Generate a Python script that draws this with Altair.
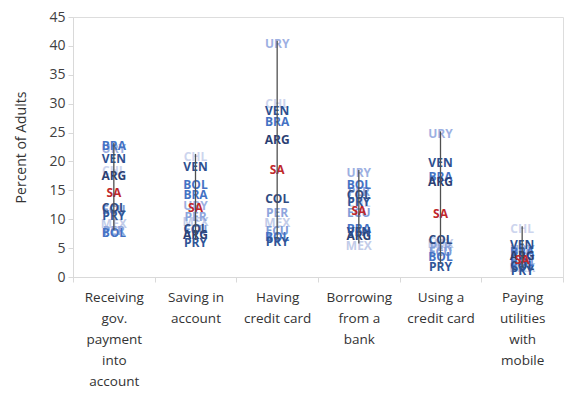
import altair as alt
import pandas as pd

categories = [
    "Receiving|gov.|payment|into|account",
    "Saving in|account",
    "Having|credit card",
    "Borrowing|from a|bank",
    "Using a|credit card",
    "Paying|utilities|with|mobile",
]
countries = ["ARG", "BOL", "BRA", "CHL", "COL", "ECU", "MEX", "PER", "PRY", "URY", "VEN", "SA"]
receiving = [18.0, 8.1, 23.2, 18.8, 12.4, 12.1, 9.7, 8.5, 11.1, 22.6, 20.9, 15.0]
saving = [7.8, 16.5, 14.7, 21.3, 8.8, 8.6, 10.0, 10.9, 6.4, 12.8, 19.6, 12.4]
having_cc = [24.2, 7.4, 27.4, 30.5, 14.0, 8.5, 9.8, 11.6, 6.5, 40.9, 29.2, 19.0]
borrowing = [7.6, 16.4, 8.9, 13.3, 14.7, 11.6, 5.8, 15.2, 13.5, 18.5, 8.3, 12.0]
using_cc = [17.0, 4.0, 17.9, 6.6, 6.9, 4.9, 6.2, 5.7, 2.3, 25.2, 20.2, 11.4]
paying_mob = [4.1, 3.1, 4.8, 8.8, 2.4, 2.8, 2.1, 4.5, 1.6, 5.2, 6.1, 3.5]
y_ticks = [0, 5, 10, 15, 20, 25, 30, 35, 40, 45]

colors = {
    "ARG": "#2B3F73", "BOL": "#4472C4", "BRA": "#4472C4", "CHL": "#CDD5EE",
    "COL": "#2F4B82", "ECU": "#7F9CD8", "MEX": "#C2CCE9", "PER": "#8EA5DD",
    "PRY": "#2F5597", "URY": "#9DB0E2", "VEN": "#2E5090", "SA": "#C0282B",
}
draw_order = ["CHL", "MEX", "URY", "PER", "ECU", "BOL", "BRA", "ARG", "COL", "PRY", "VEN", "SA"]

series = [receiving, saving, having_cc, borrowing, using_cc, paying_mob]
rows = []
for cat, vals in zip(categories, series):
    for c, v in zip(countries, vals):
        rows.append({"category": cat, "country": c, "value": v, "order": draw_order.index(c)})
df = pd.DataFrame(rows).sort_values(["order", "category"]).reset_index(drop=True)

x_axis = alt.Axis(
    title=None,
    labelExpr="split(datum.label, '|')",
    labelAngle=0,
    labelFontSize=13.5,
    labelColor="#333333",
    labelLineHeight=21,
    labelPadding=8,
    tickBand="extent",
    tickColor="#D9D9D9",
    tickSize=5,
    domainColor="#D9D9D9",
    labelFont="Open Sans",
)
y_axis = alt.Axis(
    title="Percent of Adults",
    values=y_ticks,
    grid=False,
    domainColor="#D9D9D9",
    tickColor="#D9D9D9",
    tickSize=5,
    labelOverlap=False,
    labelFontSize=14,
    labelColor="#404040",
    labelFont="Open Sans",
    labelPadding=3,
    titleFont="Open Sans",
    titleFontSize=14,
    titleFontWeight="normal",
    titleColor="#333333",
    titlePadding=20,
)
x_scale = alt.Scale(paddingInner=0, paddingOuter=0)
y_scale = alt.Scale(domain=[0, 45], nice=False, zero=True)

labels = alt.Chart(df).mark_text(
    font="Open Sans", fontSize=12, fontWeight="bold", baseline="middle", align="center", dy=3
).encode(
    x=alt.X("category:N", sort=categories, scale=x_scale, axis=x_axis),
    y=alt.Y("value:Q", scale=y_scale, axis=y_axis),
    text="country:N",
    color=alt.Color(
        "country:N",
        scale=alt.Scale(domain=list(colors.keys()), range=list(colors.values())),
        legend=None,
    ),
    order=alt.Order("order:Q"),
)

lines = alt.Chart(df).mark_rule(color="#505050", strokeWidth=1.3).encode(
    x=alt.X("category:N", sort=categories, scale=x_scale, axis=x_axis),
    y=alt.Y("min(value):Q", scale=y_scale, axis=y_axis),
    y2="max(value):Q",
)

chart = alt.layer(labels, lines).properties(
    width=490,
    height=260,
    autosize=alt.AutoSizeParams(type="none"),
    padding={"left": 65, "top": 9, "right": 8, "bottom": 115},
).configure_view(stroke=None).configure(background="white")

chart.save("out.html", embed_options={"renderer": "svg", "actions": False})
